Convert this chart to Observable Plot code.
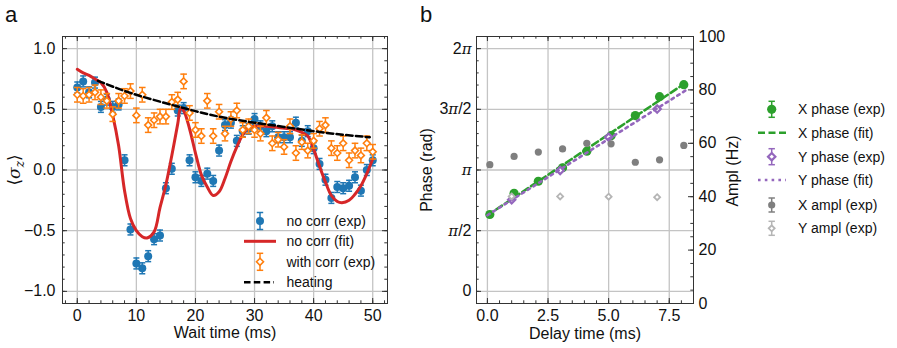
<!DOCTYPE html>
<html><head><meta charset="utf-8">
<script src="https://cdn.jsdelivr.net/npm/d3@7"></script>
<script src="https://cdn.jsdelivr.net/npm/@observablehq/plot@0.6"></script>
<style>
body{margin:0;background:#fff;}
#wrap{position:relative;width:897px;height:348px;font-family:"Liberation Sans",Arial,sans-serif;color:#111;overflow:hidden;background:#fff}
#wrap svg{position:absolute;top:0}
.vlab{position:absolute;white-space:nowrap;transform:translate(-50%,-50%) rotate(-90deg);font-size:16px;line-height:1}
.hlab{position:absolute;white-space:nowrap;transform:translate(-50%,-50%);font-size:16px;line-height:1}
</style></head><body><div id="wrap"></div><script>
// ---------- Panel a data ----------
const waitTime = [0,1,2,3,4,5,6,7,8,9,10,11,12,13,14,15,16,17,18,19,20,21,22,23,24,25,26,27,28,29,30,31,32,33,34,35,36,37,38,39,40,41,42,43,44,45,46,47,48,49,50];
const noCorrExp = [0.68,0.73,0.64,0.72,0.52,0.58,0.52,0.54,0.08,-0.49,
  -0.77,-0.81,-0.71,-0.57,-0.54,-0.15,0.01,0.49,0.51,0.08,
  -0.06,-0.09,-0.03,-0.09,0.16,0.37,0.39,0.24,0.32,0.34,
  0.42,0.36,0.32,0.36,0.27,0.27,0.27,0.39,0.24,0.32,
  0.18,0.05,-0.08,-0.23,-0.14,-0.15,-0.13,-0.06,-0.17,0.00,
  0.08];
const withCorrExp = [0.62,0.61,0.62,0.64,0.60,0.57,0.46,0.57,0.61,0.65,
  0.45,0.62,0.37,0.41,0.44,0.44,0.56,0.58,0.73,0.47,
  0.33,0.28,0.57,0.28,0.48,0.30,0.42,0.49,0.33,0.36,
  0.33,0.30,0.43,0.22,0.25,0.19,0.36,0.14,0.23,0.16,
  0.24,0.34,0.37,0.18,0.14,0.22,0.08,0.16,0.12,0.22,
  0.15];
const noCorrErr = 0.045;
const withCorrErr = 0.06;
const fitTime = [0,1,2,3,4,5,6,7,8,9,10,11,11.8,13,14,15,16,17,17.5,18,19,20,21,22,23,24,25,26,27,28,29,30,32,34,36,37,38,39,40,41,42,43,44,44.8,46,47,48,49,50];
const noCorrFit = [0.83,0.80,0.78,0.75,0.72,0.64,0.45,0.20,-0.17,-0.40,-0.50,-0.55,-0.56,-0.51,-0.31,-0.12,0.12,0.38,0.51,0.49,0.34,0.14,-0.04,-0.14,-0.21,-0.18,-0.07,0.07,0.19,0.29,0.35,0.36,0.36,0.35,0.34,0.33,0.31,0.28,0.17,0.03,-0.10,-0.21,-0.26,-0.27,-0.25,-0.20,-0.13,-0.03,0.09];
const heatTime = [3.5,9,15,20,25,30,35,40,45,49.5];
const heating = [0.735,0.635,0.55,0.485,0.43,0.39,0.355,0.32,0.29,0.27];
const aXTicks = [0,10,20,30,40,50];
const aXTickLabels = ["0","10","20","30","40","50"];
const aYTicks = [-1,-0.5,0,0.5,1];
const aYTickLabels = ["\u22121.0","\u22120.5","0.0","0.5","1.0"];

// ---------- Panel b data ----------
const delayX = [0.1,1.1,2.1,3.1,4.1,5.1,6.1,7.1,8.1];
const xPhase = [1.99,2.54,2.85,3.20,3.63,4.03,4.55,5.04,5.35];
const xAmpl = [52.0,55.1,56.7,57.9,60.0,59.8,52.9,53.8,59.2];
const delayY = [1,3,5,7];
const yPhase = [2.37,3.13,3.99,4.72];
const yAmpl = [40.1,40.1,40.0,39.8];
const fitDelay = [0,8.2];
const xPhaseFit = [1.967,5.407];
const yPhaseFit = [1.97,5.21];
const bXTicks = [0,2.5,5,7.5];
const bXTickLabels = ["0.0","2.5","5.0","7.5"];
const bYTicks = [0,Math.PI/2,Math.PI,3*Math.PI/2,2*Math.PI];
const bYTickLabels = ["0","\u03c0/2","\u03c0","3\u03c0/2","2\u03c0"];
const ampTicks = [0,20,40,60,80,100];
const ampTickLabels = ["0","20","40","60","80","100"];

// ---------- colours ----------
const C = {blue:"#1f77b4", red:"#d62728", orange:"#ff7f0e", green:"#2ca02c", purple:"#9467bd", gray:"#7f7f7f", lgray:"#b5b5b5", frame:"#333", grid:"#c4c4c4"};
const FONT = '"Liberation Sans", Arial, sans-serif';

const capSymbol = {draw(ctx, size){ const r = Math.sqrt(size/Math.PI); ctx.moveTo(-r,0); ctx.lineTo(r,0); }};

function inTicks(xv, yv, pw, ph, len, sides){
  const m = [];
  const s = {stroke: C.frame, strokeWidth: 1};
  if (sides.includes("b")) m.push(Plot.ruleX(xv, {x: d=>d, insetTop: ph-len, ...s}));
  if (sides.includes("t")) m.push(Plot.ruleX(xv, {x: d=>d, insetBottom: ph-len, ...s}));
  if (sides.includes("l")) m.push(Plot.ruleY(yv, {y: d=>d, insetRight: pw-len, ...s}));
  if (sides.includes("r")) m.push(Plot.ruleY(yv, {y: d=>d, insetLeft: pw-len, ...s}));
  return m;
}
function errMarks(rows, err, color, sw, capR){
  return [
    Plot.ruleX(rows, {x:"x", y1: d=>d.y-err, y2: d=>d.y+err, stroke: color, strokeWidth: sw}),
    Plot.dot(rows, {x:"x", y: d=>d.y-err, symbol: capSymbol, r: capR, stroke: color, strokeWidth: sw, fill:"none"}),
    Plot.dot(rows, {x:"x", y: d=>d.y+err, symbol: capSymbol, r: capR, stroke: color, strokeWidth: sw, fill:"none"})
  ];
}
const range = (a,b,s)=>{const o=[];for(let i=0;a+i*s<=b+1e-9;i++)o.push(+(a+i*s).toFixed(6));return o;};

const wrap = document.getElementById("wrap");

// ---------- Panel a ----------
const A = {w:400, h:348, l:62, r:13, t:36, b:45};
const aPW = A.w-A.l-A.r, aPH = A.h-A.t-A.b;
const blueRows = waitTime.map((x,i)=>({x, y: noCorrExp[i]}));
const orangeRows = waitTime.map((x,i)=>({x, y: withCorrExp[i]}));
const fitRows = fitTime.map((x,i)=>({x, y: noCorrFit[i]}));
const heatRows = heatTime.map((x,i)=>({x, y: heating[i]}));
const plotA = Plot.plot({
  width: A.w, height: A.h, marginLeft: A.l, marginRight: A.r, marginTop: A.t, marginBottom: A.b,
  x: {domain: [-2.5, 52.5]}, y: {domain: [-1.1, 1.1]},
  style: {fontFamily: FONT, fontSize: "16px", background: "transparent", color: "#111"},
  marks: [
    Plot.gridX(aXTicks, {stroke: C.grid, strokeOpacity: 1, strokeWidth: 1.3}),
    Plot.gridY(aYTicks, {stroke: C.grid, strokeOpacity: 1, strokeWidth: 1.3}),
    ...inTicks(range(-2,52,2), range(-1.1,1.1,0.1), aPW, aPH, 2.7, "btlr"),
    ...inTicks(aXTicks, aYTicks, aPW, aPH, 5, "btlr"),
    Plot.axisX(aXTicks, {tickSize: 0, tickPadding: 6, label: null, tickFormat: (d,i)=>aXTickLabels[i]}),
    Plot.axisY(aYTicks, {tickSize: 0, tickPadding: 7, label: null, tickFormat: (d,i)=>aYTickLabels[i]}),
    ...errMarks(blueRows, noCorrErr, C.blue, 1.5, 3),
    Plot.dot(blueRows, {x:"x", y:"y", r: 4, fill: C.blue, stroke: "none"}),
    Plot.line(fitRows, {x:"x", y:"y", stroke: C.red, strokeWidth: 3, curve: "catmull-rom"}),
    ...errMarks(orangeRows, withCorrErr, C.orange, 1.5, 3.3),
    Plot.dot(orangeRows, {x:"x", y:"y", symbol: "diamond2", r: 3.1, fill: "white", stroke: C.orange, strokeWidth: 1.6}),
    Plot.line(heatRows, {x:"x", y:"y", stroke: "#000", strokeWidth: 2.5, strokeDasharray: "6.5,3.3", curve: "natural"}),
    Plot.frame({stroke: C.frame, strokeWidth: 1})
  ]
});
plotA.style.left = "0px";
wrap.appendChild(plotA);

// ---------- Panel b ----------
const B = {w:497, h:348, l:76, r:204, t:36, b:45, left:400};
const bPW = B.w-B.l-B.r, bPH = B.h-B.t-B.b;
const xRows = delayX.map((x,i)=>({x, y: xPhase[i]}));
const yRows = delayY.map((x,i)=>({x, y: yPhase[i]}));
const xFitRows = fitDelay.map((x,i)=>({x, y: xPhaseFit[i]}));
const yFitRows = fitDelay.map((x,i)=>({x, y: yPhaseFit[i]}));
const xAmpRows = delayX.map((x,i)=>({x, y: xAmpl[i]}));
const yAmpRows = delayY.map((x,i)=>({x, y: yAmpl[i]}));
const bX = {domain: [-0.45, 8.5]};
const plotB = Plot.plot({
  width: B.w, height: B.h, marginLeft: B.l, marginRight: B.r, marginTop: B.t, marginBottom: B.b,
  x: bX, y: {domain: [-0.1*Math.PI, 2.1*Math.PI]},
  style: {fontFamily: FONT, fontSize: "16px", background: "transparent", color: "#111"},
  marks: [
    Plot.gridX(bXTicks, {stroke: C.grid, strokeOpacity: 1, strokeWidth: 1.3}),
    Plot.gridY(bYTicks, {stroke: C.grid, strokeOpacity: 1, strokeWidth: 1.3}),
    ...inTicks(range(0,8,0.5), range(0,20,1).map(i=>i*Math.PI/10), bPW, bPH, 2.7, "btl"),
    ...inTicks(bXTicks, bYTicks, bPW, bPH, 5, "btl"),
    Plot.axisX(bXTicks, {tickSize: 0, tickPadding: 6, label: null, tickFormat: (d,i)=>bXTickLabels[i]}),
    Plot.axisY(bYTicks, {tickSize: 0, tickPadding: 5, label: null, tickFormat: (d,i)=>bYTickLabels[i]}),
    Plot.dot(xRows, {x:"x", y:"y", r: 4.6, fill: C.green, stroke: "none"}),
    Plot.line(xFitRows, {x:"x", y:"y", stroke: C.green, strokeWidth: 2.6, strokeDasharray: "7,3.5"}),
    Plot.dot(yRows, {x:"x", y:"y", symbol: "diamond2", r: 3.3, fill: "white", stroke: C.purple, strokeWidth: 2.2}),
    Plot.line(yFitRows, {x:"x", y:"y", stroke: C.purple, strokeWidth: 2.6, strokeDasharray: "2.6,4.2"}),
    Plot.frame({stroke: C.frame, strokeWidth: 1})
  ]
});
plotB.style.left = B.left + "px";
wrap.appendChild(plotB);

const plotB2 = Plot.plot({
  width: B.w, height: B.h, marginLeft: B.l, marginRight: B.r, marginTop: B.t, marginBottom: B.b,
  x: {...bX, axis: null}, y: {domain: [0, 100]},
  style: {fontFamily: FONT, fontSize: "16px", background: "transparent", color: "#111"},
  marks: [
    ...inTicks([], range(0,100,5), bPW, bPH, 2.7, "r"),
    ...inTicks([], ampTicks, bPW, bPH, 5, "r"),
    Plot.axisY(ampTicks, {anchor: "right", tickSize: 0, tickPadding: 5, label: null, tickFormat: (d,i)=>ampTickLabels[i]}),
    Plot.dot(xAmpRows, {x:"x", y:"y", r: 3.6, fill: C.gray, stroke: "none"}),
    Plot.dot(yAmpRows, {x:"x", y:"y", symbol: "diamond2", r: 2.7, fill: "white", stroke: C.lgray, strokeWidth: 1.8})
  ]
});
plotB2.style.left = B.left + "px";
wrap.appendChild(plotB2);

// style pi glyphs in tick labels
plotB.querySelectorAll("text").forEach(t => {
  const s = t.textContent;
  if (!s.includes("\u03c0")) return;
  t.textContent = "";
  for (const ch of s) {
    const ts = document.createElementNS("http://www.w3.org/2000/svg","tspan");
    ts.textContent = ch;
    if (ch === "\u03c0") { ts.setAttribute("font-family","DejaVu Serif"); ts.setAttribute("font-style","italic"); ts.setAttribute("font-size","15px"); }
    t.appendChild(ts);
  }
});

// ---------- legends, panel letters (overlay) ----------
function errSym(x, y, color, half, sw){
  return `<line x1="${x}" x2="${x}" y1="${y-half}" y2="${y+half}" stroke="${color}" stroke-width="${sw}"/>`+
         `<line x1="${x-3.2}" x2="${x+3.2}" y1="${y-half}" y2="${y-half}" stroke="${color}" stroke-width="${sw}"/>`+
         `<line x1="${x-3.2}" x2="${x+3.2}" y1="${y+half}" y2="${y+half}" stroke="${color}" stroke-width="${sw}"/>`;
}
function diamond(x, y, r, stroke, sw){
  return `<path d="M${x},${y-r}L${x+r},${y}L${x},${y+r}L${x-r},${y}Z" fill="white" stroke="${stroke}" stroke-width="${sw}"/>`;
}
function txt(x, y, s){ return `<text x="${x}" y="${y+5}" font-size="14" fill="#111">${s}</text>`; }
const legA = [
  errSym(260,221,C.blue,8.5,1.5) + `<circle cx="260" cy="221" r="4" fill="${C.blue}"/>` + txt(286.5,221,"no corr (exp)"),
  `<line x1="244" x2="276" y1="241.3" y2="241.3" stroke="${C.red}" stroke-width="3"/>` + txt(286.5,241.3,"no corr (fit)"),
  errSym(260,261.8,C.orange,8.5,1.5) + diamond(260,261.8,3.5,C.orange,1.6) + txt(286.5,261.8,"with corr (exp)"),
  `<line x1="244" x2="274" y1="282.3" y2="282.3" stroke="#000" stroke-width="2.5" stroke-dasharray="6.5,3.3"/>` + txt(286.5,282.3,"heating")
].join("");
const bx = 771.7, btx = 798;
const legB = [
  errSym(bx,109.3,C.green,8,1.5) + `<circle cx="${bx}" cy="109.3" r="4.6" fill="${C.green}"/>` + txt(btx,109.3,"X phase (exp)"),
  `<line x1="758" x2="786" y1="132.7" y2="132.7" stroke="${C.green}" stroke-width="2.6" stroke-dasharray="7,3.5"/>` + txt(btx,132.7,"X phase (fit)"),
  errSym(bx,156.7,C.purple,8,1.5) + diamond(bx,156.7,3.7,C.purple,2.2) + txt(btx,156.7,"Y phase (exp)"),
  `<line x1="758" x2="786" y1="180" y2="180" stroke="${C.purple}" stroke-width="2.6" stroke-dasharray="2.6,4.2"/>` + txt(btx,180,"Y phase (fit)"),
  errSym(bx,205,C.gray,7,1.5) + `<circle cx="${bx}" cy="205" r="3.6" fill="${C.gray}"/>` + txt(btx,205,"X ampl (exp)"),
  errSym(bx,228.3,C.lgray,7,1.5) + diamond(bx,228.3,3,C.lgray,1.8) + txt(btx,228.3,"Y ampl (exp)")
].join("");
const over = document.createElementNS("http://www.w3.org/2000/svg","svg");
over.setAttribute("width","897"); over.setAttribute("height","348");
over.setAttribute("style","left:0;top:0;pointer-events:none;font-family:"+FONT.replace(/"/g,"'"));
over.innerHTML = legA + legB +
  `<text x="5" y="22" font-size="22" fill="#111">a</text>` +
  `<text x="420" y="22" font-size="22" fill="#111">b</text>`;
wrap.appendChild(over);

// axis titles (HTML text)
wrap.insertAdjacentHTML("beforeend",
  `<div class="hlab" style="left:225px;top:333px">Wait time (ms)</div>`+
  `<div class="hlab" style="left:585px;top:334px">Delay time (ms)</div>`+
  `<div class="vlab" style="left:427px;top:170px">Phase (rad)</div>`+
  `<div class="vlab" style="left:733px;top:171px">Ampl (Hz)</div>`+
  `<div class="vlab" style="left:16px;top:170px;font-family:'DejaVu Serif',serif;font-size:17px">\u27e8<i>\u03c3</i><sub style="font-size:12px"><i>z</i></sub>\u27e9</div>`
);
</script></body></html>
